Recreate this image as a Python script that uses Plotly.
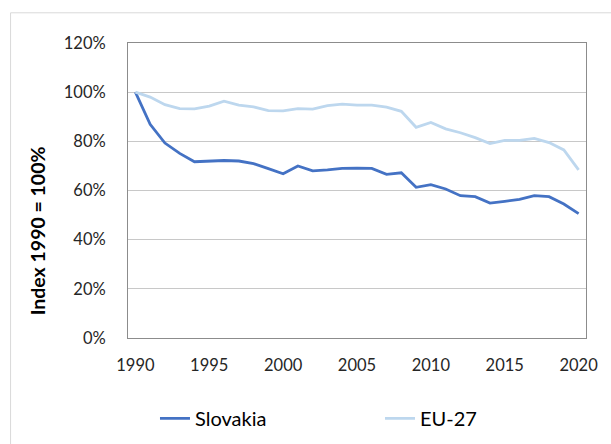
import plotly.graph_objects as go

years = list(range(1990, 2021))
slovakia = [1.000, 0.869, 0.793, 0.751, 0.717, 0.721, 0.722, 0.720, 0.709, 0.689,
            0.668, 0.700, 0.680, 0.684, 0.690, 0.691, 0.690, 0.666, 0.672, 0.613,
            0.624, 0.606, 0.579, 0.575, 0.549, 0.556, 0.564, 0.579, 0.575, 0.545,
            0.506]
eu27 = [1.000, 0.980, 0.949, 0.933, 0.932, 0.943, 0.963, 0.947, 0.940, 0.925,
        0.924, 0.933, 0.931, 0.945, 0.951, 0.947, 0.947, 0.939, 0.922, 0.857,
        0.877, 0.851, 0.835, 0.815, 0.791, 0.804, 0.804, 0.812, 0.795, 0.765,
        0.684]
y_ticks = [0, 0.2, 0.4, 0.6, 0.8, 1.0, 1.2]
x_ticks = [1990, 1995, 2000, 2005, 2010, 2015, 2020]

FONT = "Lato"
TXT = "#262626"

W, H = 611, 444
L, R, T, B = 128, 24.7, 42.7, 106.3
pw, ph = W - L - R, H - T - B

def px(x):
    return (x - L) / pw

def py(y):
    return (H - B - y) / ph

fig = go.Figure()
fig.add_trace(go.Scatter(x=years, y=slovakia, mode="lines", name="Slovakia",
                         line=dict(color="#4472C4", width=2.8)))
fig.add_trace(go.Scatter(x=years, y=eu27, mode="lines", name="EU-27",
                         line=dict(color="#BDD7EE", width=2.8)))

fig.update_layout(
    width=W, height=H,
    margin=dict(l=L, r=R, t=T, b=B, pad=0, autoexpand=False),
    paper_bgcolor="white", plot_bgcolor="white",
    font=dict(family=FONT, size=16.5, color=TXT),
    showlegend=True,
    legend=dict(orientation="h", x=px(155), y=py(418), xanchor="left", yanchor="middle",
                entrywidth=180, entrywidthmode="pixels",
                font=dict(family=FONT, size=20, color="#000000"),
                itemwidth=30, tracegroupgap=0),
    xaxis=dict(range=[1989.5, 2020.5], tickmode="array", tickvals=x_ticks,
               showgrid=False, zeroline=False, showline=True, mirror=True,
               linecolor="#8c8c8c", linewidth=1, ticks="", ticklabelstandoff=12,
               tickfont=dict(family=FONT, size=16.5, color=TXT)),
    yaxis=dict(range=[0, 1.2], tickmode="array", tickvals=y_ticks, tickformat=".0%",
               showgrid=True, gridcolor="#c8c8c8", gridwidth=1, zeroline=False,
               showline=True, mirror=True, linecolor="#8c8c8c", linewidth=1,
               ticks="", ticklabelstandoff=18,
               tickfont=dict(family=FONT, size=16.5, color=TXT)),
    annotations=[dict(text="<b>Index 1990 = 100%</b>", xref="paper", yref="paper",
                      x=px(37), y=py(231), xanchor="center", yanchor="middle",
                      textangle=-90, showarrow=False,
                      font=dict(family=FONT, size=19.5, color="#000000"))],
    shapes=[dict(type="path", xref="paper", yref="paper",
                 path=f"M {px(10.5)},{py(460)} L {px(10.5)},{py(12.5)} L {px(640)},{py(12.5)}",
                 line=dict(color="#d9d9d9", width=1), layer="below")],
)

fig.write_html("out.html", config={"displayModeBar": False},
               post_script="document.body.style.margin='0';")
